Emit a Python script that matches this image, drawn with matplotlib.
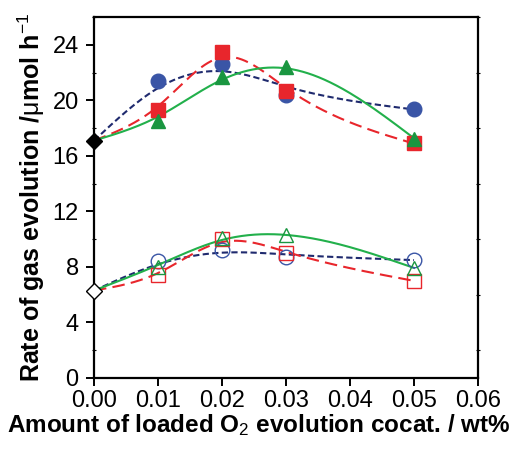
import matplotlib
matplotlib.use('Agg')
import matplotlib.pyplot as plt
import numpy as np
from matplotlib.ticker import MultipleLocator, FormatStrFormatter

plt.rcParams['font.family'] = ['Liberation Sans', 'DejaVu Sans']
plt.rcParams['mathtext.fontset'] = 'custom'
plt.rcParams['mathtext.rm'] = 'Liberation Sans'
plt.rcParams['mathtext.it'] = 'Liberation Sans'

# loading amount (wt%)
x_load = [0.01, 0.02, 0.03, 0.05]
x_all = [0.00, 0.01, 0.02, 0.03, 0.05]

# bare catalyst (diamond at 0 wt%)
h2_bare = 17.1
o2_bare = 6.3

# H2 evolution (filled symbols)
h2_circle = [21.4, 22.6, 20.4, 19.4]
h2_square = [19.3, 23.5, 20.7, 16.9]
h2_triangle = [18.5, 21.7, 22.4, 17.2]

# O2 evolution (open symbols)
o2_circle = [8.4, 9.2, 8.7, 8.5]
o2_square = [7.4, 10.0, 9.0, 7.0]
o2_triangle = [8.0, 10.1, 10.3, 7.9]

blue = '#3a55a6'
navy = '#1f2a6e'
red = '#e8262c'
green = '#1a9640'
lgreen = '#22b04b'

fig = plt.figure(figsize=(5.18, 4.58), dpi=100)
ax = fig.add_axes([0.1815, 0.1747, 0.7413, 0.788])


def smooth(yvals, lam):
    # penalised smoothing spline on a fine grid (Whittaker smoother)
    n = 501
    xs = np.linspace(0, 0.05, n)
    idx = [int(round(v / 0.05 * (n - 1))) for v in x_all]
    w = np.zeros(n)
    y = np.zeros(n)
    for k, (i, v) in enumerate(zip(idx, yvals)):
        w[i] = 1000.0 if k == 0 else 1.0
        y[i] = v
    D = np.diff(np.eye(n), 2, axis=0)
    z = np.linalg.solve(np.diag(w) + lam * D.T @ D, w * y)
    return xs, z


series = [
    (h2_bare, h2_circle, 'o', blue, navy, (0, (3, 1.6)), True, 1.5e5),
    (h2_bare, h2_square, 's', red, red, (0, (6, 3)), True, 1.5e4),
    (h2_bare, h2_triangle, '^', green, lgreen, '-', True, 5e4),
    (o2_bare, o2_circle, 'o', blue, navy, (0, (3, 1.6)), False, 1.5e5),
    (o2_bare, o2_square, 's', red, red, (0, (6, 3)), False, 1.5e4),
    (o2_bare, o2_triangle, '^', green, lgreen, '-', False, 5e4),
]

for base, vals, mk, mc, lc, ls, filled, lam in series:
    xs, ys = smooth([base] + vals, lam)
    ax.plot(xs, ys, color=lc, ls=ls, lw=1.5, zorder=2)
    if filled:
        ax.plot(x_load, vals, mk, color=mc, ms=10.5, mec=mc, zorder=3)
    else:
        ax.plot(x_load, vals, mk, mfc='none', mec=mc, ms=10.5, mew=1.0, zorder=3)

ax.plot([0], [h2_bare], 'D', color='black', ms=8, zorder=4, clip_on=False)
ax.plot([0], [o2_bare], 'D', mfc='white', mec='black', ms=8, mew=1.0, zorder=4, clip_on=False)

ax.set_xlim(0, 0.06)
ax.set_ylim(0, 26)
ax.xaxis.set_major_locator(MultipleLocator(0.01))
ax.xaxis.set_major_formatter(FormatStrFormatter('%.2f'))
ax.yaxis.set_major_locator(MultipleLocator(4))
ax.yaxis.set_minor_locator(MultipleLocator(2))

for s in ax.spines.values():
    s.set_linewidth(1.6)
ax.tick_params(axis='both', which='major', direction='out', length=6, width=1.4,
               labelsize=17, pad=5)
ax.tick_params(axis='x', which='major', pad=3)
ax.tick_params(axis='y', which='minor', direction='inout', length=3, width=0.8,
               right=True)

ax.set_xlabel(r'Amount of loaded O$_2$ evolution cocat. / wt%', fontsize=17.5,
              fontweight='bold')
ax.xaxis.set_label_coords(0.43, -0.095, transform=ax.transAxes)
ax.xaxis.label.set_va('top')
ax.set_ylabel(r'Rate of gas evolution /$\mu$mol h$^{-1}$', fontsize=18,
              fontweight='bold', labelpad=4)

fig.savefig('out.png', dpi=100)
